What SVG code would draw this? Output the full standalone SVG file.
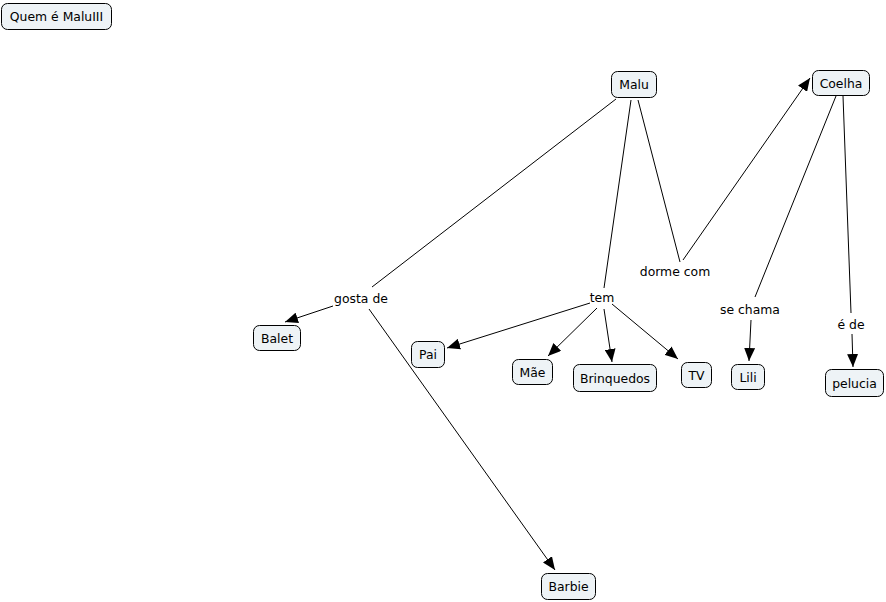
<svg xmlns="http://www.w3.org/2000/svg" width="886" height="602" viewBox="0 0 886 602">
<style>
.n rect{fill:#eef3f6;stroke:#000;stroke-width:1;}
text{font-family:"DejaVu Sans",Verdana,sans-serif;font-size:12.4px;fill:#000;text-anchor:middle;dominant-baseline:central;}
.c line{stroke:#000;stroke-width:1;}
</style>
<defs>
<marker id="a" viewBox="0 0 13 11" refX="13" refY="5.5" markerWidth="13" markerHeight="11" markerUnits="userSpaceOnUse" orient="auto"><path d="M0,0L13,5.5L0,11z" fill="#000"/></marker>
</defs>
<rect width="886" height="602" fill="#fff"/>
<g id="connectors" class="c">
<line x1="616" y1="99" x2="372" y2="287"/>
<line x1="333" y1="306" x2="285" y2="322" marker-end="url(#a)"/>
<line x1="369" y1="309" x2="555" y2="570" marker-end="url(#a)"/>
<line x1="631" y1="100" x2="604" y2="288"/>
<line x1="590" y1="303" x2="447" y2="348" marker-end="url(#a)"/>
<line x1="597" y1="308" x2="548" y2="356" marker-end="url(#a)"/>
<line x1="604" y1="309" x2="612" y2="362" marker-end="url(#a)"/>
<line x1="612" y1="304" x2="678" y2="359" marker-end="url(#a)"/>
<line x1="638" y1="100" x2="680" y2="262"/>
<line x1="683" y1="260" x2="810" y2="78" marker-end="url(#a)"/>
<line x1="836" y1="96" x2="755" y2="297"/>
<line x1="751" y1="320" x2="749" y2="361" marker-end="url(#a)"/>
<line x1="843" y1="96" x2="851" y2="313"/>
<line x1="852" y1="334" x2="853" y2="367" marker-end="url(#a)"/>
</g>
<g id="lbl-gosta"><text x="361" y="298">gosta de</text></g>
<g id="lbl-tem"><text x="602" y="297">tem</text></g>
<g id="lbl-dorme"><text x="675" y="271">dorme com</text></g>
<g id="lbl-sechama"><text x="750" y="309">se chama</text></g>
<g id="lbl-ede"><text x="851" y="324">é de</text></g>
<g id="n-quem" class="n"><rect x="1.5" y="3.5" width="110" height="26" rx="6"/><text x="56.5" y="16.5">Quem é MaluIII</text></g>
<g id="n-malu" class="n"><rect x="611.5" y="71.5" width="45" height="26" rx="6"/><text x="634" y="84.5">Malu</text></g>
<g id="n-coelha" class="n"><rect x="812.5" y="70.5" width="57" height="25" rx="6"/><text x="841" y="83">Coelha</text></g>
<g id="n-balet" class="n"><rect x="253.5" y="325.5" width="47" height="25" rx="6"/><text x="277" y="338">Balet</text></g>
<g id="n-pai" class="n"><rect x="411.5" y="341.5" width="33" height="26" rx="6"/><text x="428" y="354.5">Pai</text></g>
<g id="n-mae" class="n"><rect x="512.5" y="359.5" width="40" height="25" rx="6"/><text x="532.5" y="372">Mãe</text></g>
<g id="n-brinq" class="n"><rect x="573.5" y="364.5" width="83" height="27" rx="6"/><text x="615" y="378">Brinquedos</text></g>
<g id="n-tv" class="n"><rect x="681.5" y="362.5" width="30" height="25" rx="6"/><text x="696.5" y="375">TV</text></g>
<g id="n-lili" class="n"><rect x="731.5" y="364.5" width="33" height="25" rx="6"/><text x="748" y="377">Lili</text></g>
<g id="n-pelucia" class="n"><rect x="825.5" y="369.5" width="58" height="27" rx="6"/><text x="854.5" y="383">pelucia</text></g>
<g id="n-barbie" class="n"><rect x="541.5" y="573.5" width="54" height="26" rx="6"/><text x="568.5" y="586.5">Barbie</text></g>
</svg>
